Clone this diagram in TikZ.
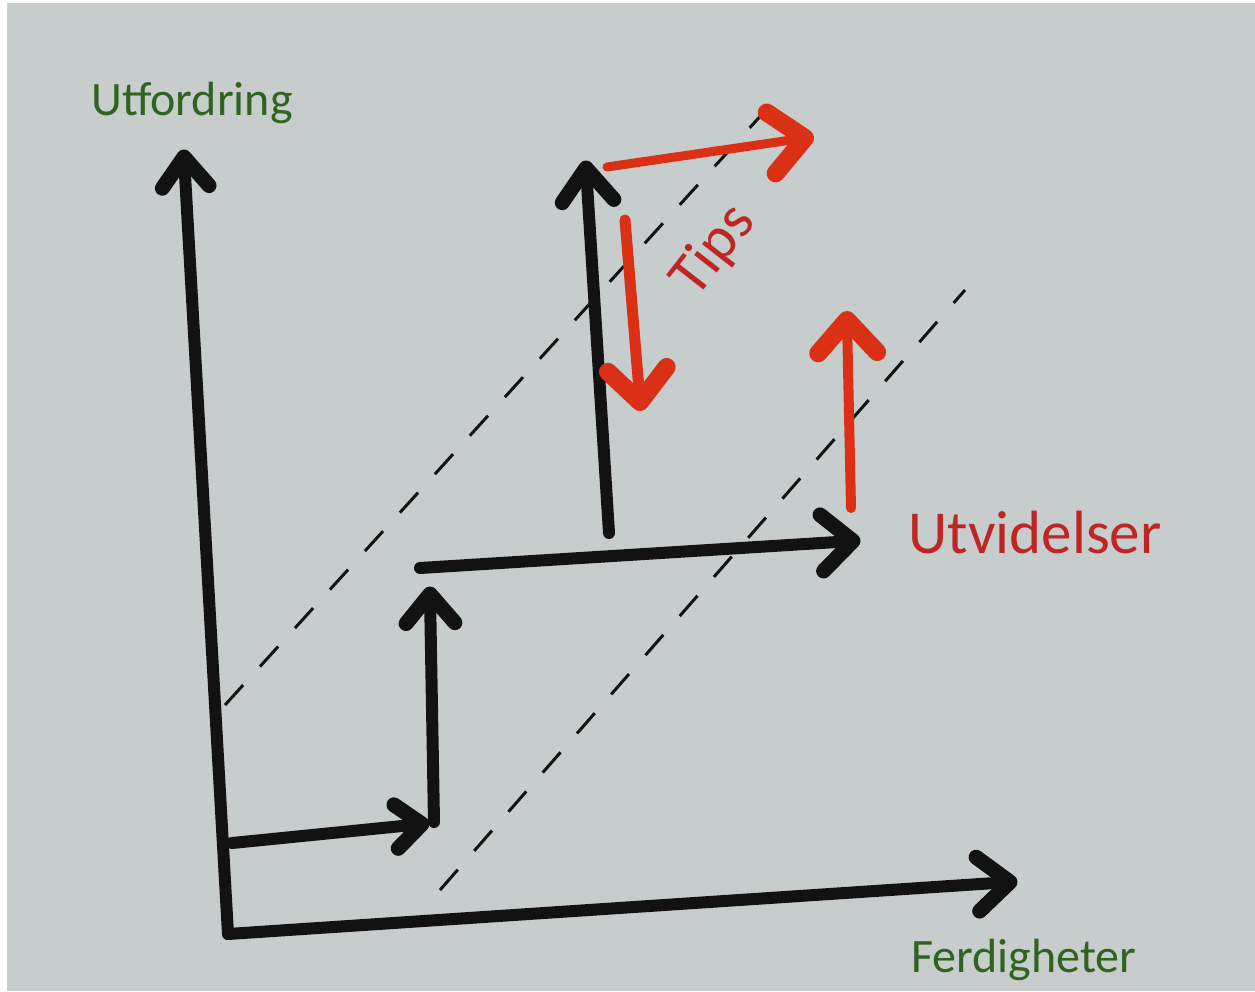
\documentclass[tikz,border=0pt]{standalone}
\usepackage{fontspec}
\setmainfont{Carlito}
\usetikzlibrary{calc}
\definecolor{paper}{RGB}{198,205,204}
\definecolor{ink}{RGB}{18,18,18}
\definecolor{redink}{RGB}{218,48,22}
\definecolor{redtext}{RGB}{190,38,34}
\definecolor{labelgreen}{RGB}{48,100,30}
\tikzset{
  blackline/.style={draw=ink, line width=12pt, line cap=round, line join=round},
  blackhead/.style={draw=ink, line width=15pt, line cap=round, line join=round},
  redline/.style={draw=redink, line width=9pt, line cap=round, line join=round},
  redhead/.style={draw=redink, line width=18pt, line cap=round, line join=round},
  guide/.style={draw=ink, line width=3pt, dash pattern=on 27pt off 25pt},
  axislabel/.style={text=labelgreen, font=\fontsize{48}{56}\selectfont, inner sep=0pt, anchor=base},
  redlabel/.style={text=redtext, inner sep=0pt},
}
% chevron head: style, tip, point the shaft comes from, arm length, half angle
\newcommand{\chevronhead}[5]{\draw[#1] ($(#2)!#4!#5:(#3)$) -- (#2) -- ($(#2)!#4!-#5:(#3)$);}
\begin{document}
\begin{tikzpicture}[x=1pt, y=-1pt]
\useasboundingbox (0,0) rectangle (1255,991);
\fill[white] (0,0) rectangle (1255,991);
\fill[paper] (7,3) rectangle (1255,991);
% named points
\coordinate (origin) at (228,934);
\coordinate (ytip) at (184,157);
\coordinate (xtip) at (1010,882);
\coordinate (s1a) at (232,843);
\coordinate (s1b) at (422,824);
\coordinate (s2a) at (434,822);
\coordinate (s2b) at (430,594);
\coordinate (s3a) at (420,568);
\coordinate (s3b) at (853,541);
\coordinate (s4a) at (609,533);
\coordinate (s4b) at (586,168);
\coordinate (r1a) at (607,167);
\coordinate (r1b) at (805,138);
\coordinate (r2a) at (625,220);
\coordinate (r2b) at (640,402);
\coordinate (r3a) at (851,508);
\coordinate (r3b) at (847,320);
\coordinate (d1a) at (225,705);
\coordinate (d1b) at (775,100);
\coordinate (d2a) at (440,890);
\coordinate (d2b) at (965,290);
% dashed guides
\draw[guide] (d1a) -- (d1b);
\draw[guide] (d2a) -- (d2b);
% axes
\draw[blackline] (origin) -- (ytip);
\chevronhead{blackhead}{ytip}{origin}{38pt}{38}
\draw[blackline] (origin) -- (xtip);
\chevronhead{blackhead}{xtip}{origin}{42pt}{40}
% staircase
\draw[blackline] (s1a) -- (s1b);
\chevronhead{blackhead}{s1b}{s1a}{34pt}{40}
\draw[blackline] (s2a) -- (s2b);
\chevronhead{blackhead}{s2b}{s2a}{38pt}{40}
\draw[blackline] (s3a) -- (s3b);
\chevronhead{blackhead}{s3b}{s3a}{42pt}{42}
\draw[blackline] (s4a) -- (s4b);
\chevronhead{blackhead}{s4b}{s4a}{42pt}{38}
% red arrows
\draw[redline] (r1a) -- (r1b);
\chevronhead{redhead}{r1b}{r1a}{46pt}{42}
\draw[redline, line width=11pt] (r2a) -- (r2b);
\chevronhead{redhead}{r2b}{r2a}{44pt}{42}
\draw[redline, line width=10pt] (r3a) -- (r3b);
\chevronhead{redhead}{r3b}{r3a}{44pt}{42}
% labels
\node[axislabel] (utf) at (192,115) {Utfordring};
\node[axislabel] (ferd) at (1024,972) {Ferdigheter};
\node[redlabel, font=\fontsize{60}{64}\selectfont, rotate=52] (tips) at (714,251) {Tips};
\node[redlabel, font=\fontsize{61}{64}\selectfont, anchor=base] (utv) at (1035,553) {Utvidelser};
\end{tikzpicture}
\end{document}
